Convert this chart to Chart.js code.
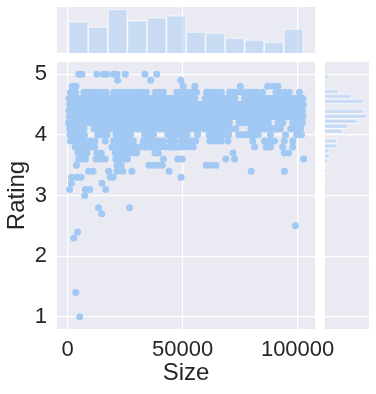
<!DOCTYPE html>
<html>
<head>
<meta charset="utf-8">
<script src="https://cdn.jsdelivr.net/npm/chart.js@4"></script>
<style>
  html, body { margin: 0; padding: 0; background: #fff; }
  #wrap { position: relative; width: 376px; height: 394px; }
  canvas { position: absolute; }
</style>
</head>
<body>
<div id="wrap">
  <canvas id="chartMain" width="376" height="394" style="left:0;top:0"></canvas>
  <canvas id="chartTop" width="258" height="46" style="left:57px;top:7px"></canvas>
  <canvas id="chartRight" width="44" height="267" style="left:325px;top:62px"></canvas>
</div>
<script>
// scatter: app sizes per rating level
const r50 = [4800, 6200, 12700, 15600, 17000, 19900, 21400, 25000, 33600, 38700];
const r49 = [21700, 36100, 49200];
const r48 = [1900, 3600, 50200, 55300, 75100, 87000, 89200, 91400];
const r47 = [1200, 2600, 3400, 7000, 8600, 10200, 11400, 13000, 14600, 16800, 20000, 21800, 23600, 25400, 27200, 28800, 30600, 32400, 34200, 38000, 39800, 41600, 47400, 49200, 51000, 52800, 54600, 56000, 60400, 62000, 63200, 64800, 66800, 70400, 72000, 73400, 75600, 77400, 79000, 80600, 82400, 84800, 90600, 92400, 94400, 96400, 100800];
const r46 = [600, 2400, 4300, 6300, 8500, 10500, 12600, 14700, 16900, 18800, 21000, 23100, 25300, 27300, 29600, 31700, 33900, 35800, 38100, 40300, 42300, 44600, 46700, 48900, 51000, 53200, 55300, 59800, 61900, 64100, 66100, 68400, 70500, 72700, 76900, 79100, 81200, 83400, 85500, 87600, 89900, 92000, 94200, 96300, 98600, 100600, 102300];
const r46b = [1500, 3300, 5300, 7400, 9500, 11600, 13600, 15800, 17800, 19900, 22000, 24200, 26300, 28400, 30600, 32800, 34800, 37000, 39200, 41300, 43400, 45600, 47800, 50000, 52100, 54200, 60800, 63000, 65100, 67200, 69400, 71600, 78000, 80100, 82300, 84400, 86500, 88700, 91000, 93100, 95300, 97400, 99600, 101500];
const r45 = [900, 2900, 5000, 7100, 9200, 11300, 13500, 15600, 17700, 19800, 22000, 24100, 26200, 28300, 30500, 32600, 34700, 36800, 39000, 41100, 43200, 45300, 47500, 49600, 51700, 53800, 56000, 58100, 60200, 62300, 64500, 66600, 68700, 70800, 73000, 75100, 77200, 79300, 81500, 83600, 85700, 87800, 90000, 92100, 94200, 96300, 98500, 100600, 102500];
const r45b = [1900, 4000, 6000, 8100, 10200, 12400, 14500, 16600, 18700, 20900, 23000, 25100, 27200, 29400, 31500, 33600, 35700, 37900, 40000, 42100, 44200, 46400, 48500, 50600, 52700, 54900, 57000, 59100, 61200, 63400, 65500, 67600, 69700, 71900, 74000, 76100, 78200, 80400, 82500, 84600, 86700, 88900, 91000, 93100, 95200, 97400, 99500, 101500];
const r44 = [500, 2500, 4600, 6700, 8800, 10900, 13100, 15200, 17300, 19400, 21600, 23700, 25800, 27900, 30100, 32200, 34300, 36400, 38600, 40700, 42800, 44900, 47100, 49200, 51300, 53400, 55600, 57700, 59800, 61900, 64100, 66200, 68300, 70400, 72600, 74700, 76800, 78900, 81100, 83200, 85300, 87400, 89600, 91700, 93800, 95900, 98100, 100200, 102200];
const r44b = [1500, 3500, 5600, 7700, 9800, 12000, 14100, 16200, 18300, 20500, 22600, 24700, 26800, 29000, 31100, 33200, 35300, 37500, 39600, 41700, 43800, 46000, 48100, 50200, 52300, 54500, 56600, 58700, 60800, 63000, 65100, 67200, 69300, 71500, 73600, 75700, 77800, 80000, 82100, 84200, 86300, 88500, 90600, 92700, 94800, 97000, 99100, 101200];
const r43 = [700, 2700, 4800, 6900, 9000, 11200, 13300, 15400, 17500, 19700, 21800, 23900, 26000, 28200, 30300, 32400, 34500, 36700, 38800, 40900, 43000, 45200, 47300, 49400, 51500, 53700, 55800, 57900, 60000, 62200, 64300, 66400, 68500, 70700, 72800, 74900, 77000, 79200, 81300, 83400, 85500, 87700, 89800, 91900, 94000, 96200, 98300, 100400, 102400];
const r43b = [1700, 3700, 5800, 7900, 10100, 12200, 14300, 16400, 18600, 20700, 22800, 24900, 27100, 29200, 31300, 33400, 35600, 37700, 39800, 41900, 44100, 46200, 48300, 50400, 52600, 54700, 56800, 58900, 61100, 63200, 65300, 67400, 69600, 71700, 73800, 75900, 78100, 80200, 82300, 84400, 86600, 88700, 90800, 92900, 95100, 97200, 99300, 101400];
const r42 = [400, 2300, 4400, 6500, 8600, 10800, 12900, 15000, 17100, 19300, 21400, 23500, 25600, 27800, 29900, 32000, 34100, 36300, 38400, 40500, 42600, 44800, 46900, 49000, 51100, 53300, 55400, 57500, 59600, 61800, 63900, 66000, 68100, 70300, 74500, 76600, 78800, 80900, 83000, 85100, 87300, 91500, 93600, 97900, 100000, 102100];
const r42b = [1300, 3300, 5400, 7500, 9700, 11800, 13900, 16000, 18200, 20300, 22400, 24500, 26700, 28800, 30900, 33000, 35200, 37300, 39400, 41500, 43700, 45800, 47900, 50000, 52200, 54300, 56400, 58500, 60700, 62800, 64900, 67000, 69200, 75500, 77700, 79800, 81900, 84000, 86200, 92500, 98900, 101000];
const r41 = [800, 2900, 5000, 7100, 11500, 13600, 15700, 17900, 20000, 22100, 24200, 26400, 28500, 30600, 32700, 34900, 37000, 39100, 41200, 43400, 45500, 47600, 49700, 51900, 54000, 56100, 58200, 60400, 62500, 64600, 66700, 68900, 71000, 73100, 79700, 81800, 84000, 86100, 88200, 90300, 92500, 97000, 99200, 101300];
const r41b = [1800, 3900, 6000, 12500, 14600, 16800, 18900, 21000, 23200, 25300, 27400, 29500, 31700, 33800, 35900, 38000, 40200, 42300, 44400, 46500, 48700, 50800, 52900, 55000, 57200, 59300, 61400, 63500, 65700, 67800, 69900, 80700, 82900, 85000, 87100, 89300, 91400, 98100, 100300];
const r40 = [900, 3000, 5100, 7300, 13000, 15200, 17100, 21000, 23100, 25300, 27300, 33400, 35500, 37300, 43500, 45600, 47700, 49800, 51900, 56500, 61500, 63600, 65800, 67900, 70000, 74400, 76500, 78700, 80800, 82900, 88200, 94800, 99600, 101700];
const r40b = [2000, 4000, 6200, 14100, 16100, 22000, 24200, 26300, 34400, 36400, 44500, 46600, 48700, 50900, 62500, 64700, 66800, 69000, 75500, 77600, 79700, 81800, 100600];
const r39 = [1200, 2600, 4100, 5500, 6900, 8400, 10200, 11900, 16300, 19900, 21400, 22800, 24300, 25700, 27100, 28600, 32900, 34400, 35800, 37200, 38700, 40100, 41600, 44500, 46600, 49500, 51700, 53800, 55600, 61800, 63200, 65400, 66800, 69700, 80500, 85600, 87700, 89900, 94200, 97900];
const r38 = [3300, 5500, 7700, 9800, 11700, 19200, 21400, 23500, 25000, 27100, 29300, 31500, 33600, 35800, 38000, 40100, 42300, 44500, 46600, 48100, 50200, 52400, 54600, 81300, 86300, 88200, 93500, 97900];
const r37 = [4500, 6500, 8400, 12700, 14600, 20700, 22800, 25000, 26700, 28500, 30000, 38000, 39400, 71900, 94200, 96100];
const r36 = [4800, 5900, 7700, 12300, 14400, 16300, 20900, 22800, 24500, 26000, 41600, 47800, 49800, 68800, 72600, 102600];
const r35 = [3800, 21400, 23300, 35400, 37400, 39400, 41100, 60300, 62500, 64500];
const r34 = [9100, 11000, 17800, 21400, 24000, 27900, 44100, 79800, 94300];
const r33 = [1700, 4100, 5800, 18500, 19700, 49300];
const r32 = [1600, 14900];
const r31 = [800, 7700, 9600, 16500];
const r30 = [7400];
const r28 = [13400, 26900];
const r27 = [14800];
const r25 = [99000];
const r24 = [4300];
const r23 = [2600];
const r14 = [3500];
const r10 = [5200];

const ratingLevels = [5.0, 4.9, 4.8, 4.7, 4.6, 4.6, 4.5, 4.5, 4.4, 4.4, 4.3, 4.3, 4.2, 4.2, 4.1, 4.1, 4.0, 4.0, 3.9, 3.8, 3.7, 3.6, 3.5, 3.4, 3.3, 3.2, 3.1, 3.0, 2.8, 2.7, 2.5, 2.4, 2.3, 1.4, 1.0];
const sizeRows = [r50, r49, r48, r47, r46, r46b, r45, r45b, r44, r44b, r43, r43b, r42, r42b, r41, r41b, r40, r40b, r39, r38, r37, r36, r35, r34, r33, r32, r31, r30, r28, r27, r25, r24, r23, r14, r10];

// top marginal histogram (Size)
const sizeBinCenters = [4685, 13188, 21690, 30193, 38696, 47198, 55701, 64204, 72706, 81209, 89712, 98214];
const sizeBinCounts = [93, 78, 130, 96, 105, 111, 63, 60, 45, 39, 33, 72];

// right marginal histogram (Rating)
const ratingBinCenters = [1.041, 1.122, 1.204, 1.286, 1.367, 1.449, 1.531, 1.612, 1.694, 1.776, 1.857, 1.939, 2.020, 2.102, 2.184, 2.265, 2.347, 2.429, 2.510, 2.592, 2.673, 2.755, 2.837, 2.918, 3.000, 3.082, 3.163, 3.245, 3.327, 3.408, 3.490, 3.571, 3.653, 3.735, 3.816, 3.898, 3.980, 4.061, 4.143, 4.224, 4.306, 4.388, 4.469, 4.551, 4.633, 4.714, 4.796, 4.878, 4.959];
const ratingBinCounts = [1, 0, 0, 0, 1, 0, 0, 0, 0, 0, 0, 0, 0, 0, 0, 1, 0, 1, 1, 0, 1, 0, 2, 0, 1, 0, 3, 0, 3, 6, 0, 9, 15, 15, 39, 36, 0, 54, 69, 99, 126, 117, 0, 117, 81, 42, 6, 3, 12];

const sizeTicks = [0, 50000, 100000];
const ratingTicks = [1, 2, 3, 4, 5];

const textColor = '#262626';
Chart.defaults.font.family = '"Liberation Sans", Arial, sans-serif';

const plotBackground = {
  id: 'plotBackground',
  beforeDraw(chart) {
    const { ctx, chartArea } = chart;
    ctx.save();
    ctx.fillStyle = '#eaeaf2';
    ctx.fillRect(chartArea.left, chartArea.top, chartArea.width, chartArea.height);
    ctx.restore();
  }
};

const points = [];
ratingLevels.forEach((r, i) => {
  sizeRows[i].forEach(s => points.push({ x: s, y: r }));
});

const gridStyle = { color: '#ffffff', lineWidth: 1.2, drawTicks: false, offset: false };

// Main scatter
new Chart(document.getElementById('chartMain'), {
  type: 'scatter',
  data: {
    datasets: [{
      data: points,
      backgroundColor: '#a1c9f4',
      borderWidth: 0,
      pointRadius: 3.5,
      pointHoverRadius: 3.5
    }]
  },
  options: {
    responsive: false,
    animation: false,
    layout: { padding: { left: 0, top: 62, right: 61, bottom: 0 } },
    plugins: { legend: { display: false }, tooltip: { enabled: false } },
    scales: {
      x: {
        type: 'linear',
        min: -4670,
        max: 107570,
        afterFit: s => { s.height = 65; },
        afterBuildTicks: s => { s.ticks = sizeTicks.map(v => ({ value: v })); },
        grid: gridStyle,
        border: { display: false },
        ticks: {
          padding: 8, color: textColor, font: { size: 22 }, maxRotation: 0, autoSkip: false,
          callback: v => String(v)
        },
        title: { display: true, text: 'Size', color: textColor, font: { size: 24 }, padding: { top: 0, bottom: 6 } }
      },
      y: {
        type: 'linear',
        min: 0.8,
        max: 5.2,
        afterFit: s => { s.width = 57; },
        afterBuildTicks: s => { s.ticks = ratingTicks.map(v => ({ value: v })); },
        grid: gridStyle,
        border: { display: false },
        ticks: {
          padding: 10, color: textColor, font: { size: 22 }, autoSkip: false,
          callback: v => String(v)
        },
        title: { display: true, text: 'Rating', color: textColor, font: { size: 24 }, padding: { top: 3, bottom: 0 } }
      }
    }
  },
  plugins: [plotBackground]
});

// Top marginal histogram
new Chart(document.getElementById('chartTop'), {
  type: 'bar',
  data: {
    datasets: [{
      data: sizeBinCenters.map((c, i) => ({ x: c, y: sizeBinCounts[i] })),
      backgroundColor: 'rgba(161, 201, 244, 0.45)',
      borderColor: 'rgba(255, 255, 255, 0.6)',
      borderWidth: 1,
      barPercentage: 1,
      categoryPercentage: 1
    }]
  },
  options: {
    responsive: false,
    animation: false,
    layout: { padding: 0 },
    plugins: { legend: { display: false }, tooltip: { enabled: false } },
    scales: {
      x: {
        type: 'linear',
        min: -4670,
        max: 107570,
        offset: false,
        afterBuildTicks: s => { s.ticks = sizeTicks.map(v => ({ value: v })); },
        grid: gridStyle,
        border: { display: false },
        ticks: { display: false }
      },
      y: { display: false, min: 0, max: 136.5 }
    }
  },
  plugins: [plotBackground]
});

// Right marginal histogram
new Chart(document.getElementById('chartRight'), {
  type: 'bar',
  data: {
    datasets: [{
      data: ratingBinCenters.map((c, i) => ({ x: ratingBinCounts[i], y: c })),
      backgroundColor: 'rgba(161, 201, 244, 0.45)',
      borderColor: 'rgba(255, 255, 255, 0.6)',
      borderWidth: 1,
      barPercentage: 1,
      categoryPercentage: 1
    }]
  },
  options: {
    indexAxis: 'y',
    responsive: false,
    animation: false,
    layout: { padding: 0 },
    plugins: { legend: { display: false }, tooltip: { enabled: false } },
    scales: {
      y: {
        type: 'linear',
        min: 0.8,
        max: 5.2,
        offset: false,
        afterBuildTicks: s => { s.ticks = ratingTicks.map(v => ({ value: v })); },
        grid: gridStyle,
        border: { display: false },
        ticks: { display: false }
      },
      x: { display: false, min: 0, max: 132.3 }
    }
  },
  plugins: [plotBackground]
});
</script>
</body>
</html>
